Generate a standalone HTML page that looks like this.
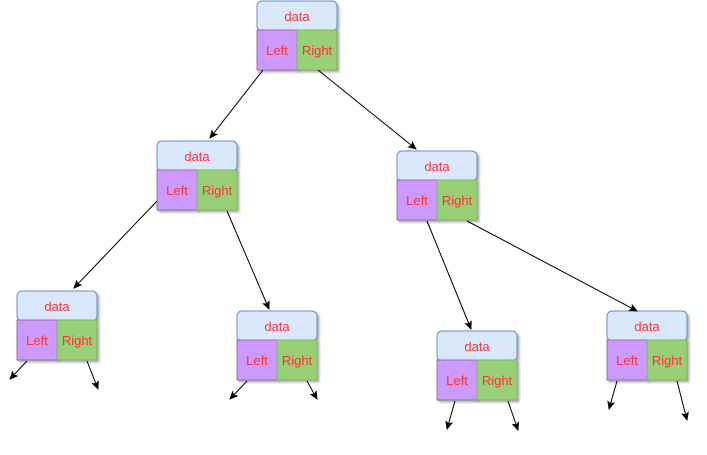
<!DOCTYPE html>
<html><head><style>body{margin:0;background:#fff;width:707px;height:450px;overflow:hidden}</style></head>
<body>
<svg width="707" height="450" xmlns="http://www.w3.org/2000/svg" font-family="Liberation Sans, sans-serif" font-size="13">
<defs>
<marker id="a" markerWidth="10" markerHeight="10" refX="8" refY="4" orient="auto" markerUnits="userSpaceOnUse"><path d="M0,0 L9,4 L0,8 L2,4 z" fill="#000"/></marker>
<filter id="s"><feDropShadow dx="2" dy="2" stdDeviation="1" flood-opacity="0.3"/></filter>
<g id="n">
<rect x="0" y="0" width="80" height="30" rx="5" fill="#dae8fc" stroke="#6c8ebf" filter="url(#s)"/>
<rect x="0" y="29" width="40" height="40" fill="#cc99ff" stroke="#9673a6" filter="url(#s)"/>
<rect x="40" y="29" width="40" height="40" fill="#97d077" stroke="#82b366" filter="url(#s)"/>
<text x="40" y="20" text-anchor="middle" fill="#ff3333">data</text>
<text x="20" y="54" text-anchor="middle" fill="#ff3333">Left</text>
<text x="60" y="54" text-anchor="middle" fill="#ff3333">Right</text>
</g>
</defs>
<use href="#n" x="257" y="1"/>
<use href="#n" x="157" y="141"/>
<use href="#n" x="397" y="151"/>
<use href="#n" x="17" y="291"/>
<use href="#n" x="237" y="311"/>
<use href="#n" x="437" y="331"/>
<use href="#n" x="607" y="311"/>
<g stroke="#000" stroke-width="1" marker-end="url(#a)">
<line x1="263" y1="70" x2="210" y2="138"/>
<line x1="318" y1="70" x2="416" y2="149"/>
<line x1="157" y1="201" x2="74" y2="288"/>
<line x1="227" y1="211" x2="269" y2="309"/>
<line x1="427" y1="221" x2="471" y2="329"/>
<line x1="467" y1="221" x2="637" y2="311"/>
<line x1="27" y1="361" x2="10" y2="379"/>
<line x1="87" y1="361" x2="98" y2="389"/>
<line x1="247" y1="381" x2="230" y2="399"/>
<line x1="307" y1="381" x2="317" y2="399"/>
<line x1="455" y1="401" x2="447" y2="429"/>
<line x1="508" y1="401" x2="518" y2="430"/>
<line x1="617" y1="381" x2="609" y2="409"/>
<line x1="677" y1="381" x2="687" y2="420"/>
</g>
</svg>
</body></html>
